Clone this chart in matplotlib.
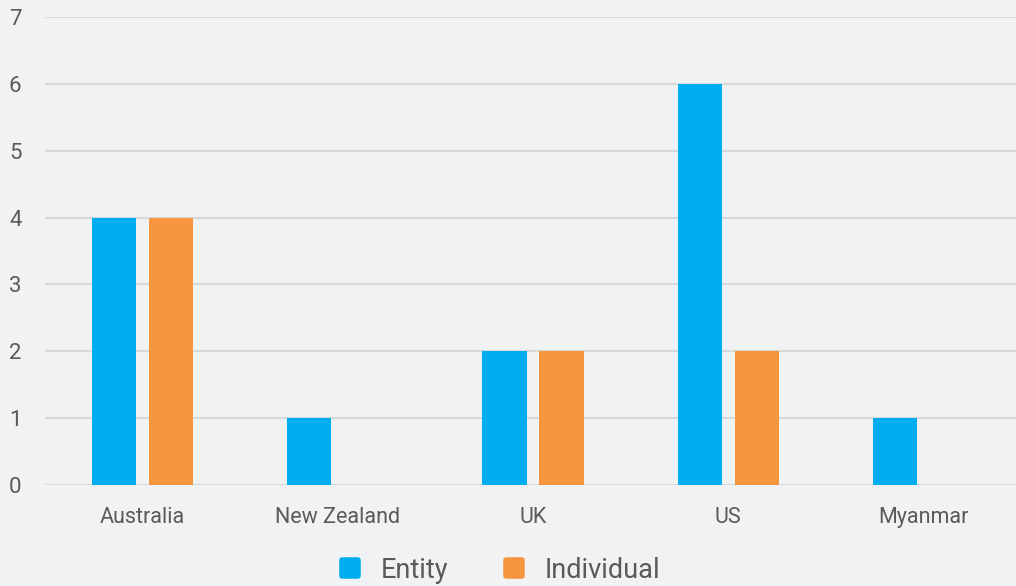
import numpy as np
import matplotlib
matplotlib.use('Agg')
import matplotlib.pyplot as plt
from matplotlib.lines import Line2D
from matplotlib.markers import MarkerStyle

countries = ["Australia", "New Zealand", "UK", "US", "Myanmar"]
entity = [4, 1, 2, 6, 1]
individual = [4, 0, 2, 2, 0]
series_names = ["Entity", "Individual"]

BG = "#f1f2f4"
BLUE = "#00aeef"
ORANGE = "#f7963f"
TXT = "#5a5a5a"
GRID = "#d7d8da"

plt.rcParams['font.family'] = ['Roboto', 'DejaVu Sans']

fig = plt.figure(figsize=(10.16, 5.86), dpi=100, facecolor=BG)
ax = fig.add_axes([0.0443, 0.1724, 0.9606, 0.7986], facecolor=BG)

x = np.arange(len(countries))
w = 0.227
off = 0.146
ax.bar(x - off, entity, w, color=BLUE, zorder=3)
ax.bar(x + off, individual, w, color=ORANGE, zorder=3)

ax.set_xlim(-0.5, len(countries) - 0.5)
ax.set_ylim(0, 7)
ax.set_yticks(range(0, 8))
ax.yaxis.grid(True, color=GRID, linewidth=1.5, zorder=0)
ax.set_axisbelow(True)
for s in ax.spines.values():
    s.set_visible(False)
ax.tick_params(axis='both', length=0, labelcolor=TXT)
ax.tick_params(axis='y', pad=17, labelsize=16)
ax.tick_params(axis='x', pad=16, labelsize=15.5)
ax.set_xticks(x)
ax.set_xticklabels(countries)

ms = MarkerStyle('s', joinstyle='round')
handles = [Line2D([], [], marker=ms, linestyle='', markersize=11,
                  markerfacecolor=c, markeredgecolor=c, markeredgewidth=4)
           for c in (BLUE, ORANGE)]
fig.legend(handles, series_names, loc='center', bbox_to_anchor=(0.492, 0.027),
           ncol=2, frameon=False, fontsize=19.5, labelcolor=TXT,
           handlelength=0.8, handletextpad=0.75, columnspacing=2.0)

fig.savefig("out.png", dpi=100, facecolor=BG)
